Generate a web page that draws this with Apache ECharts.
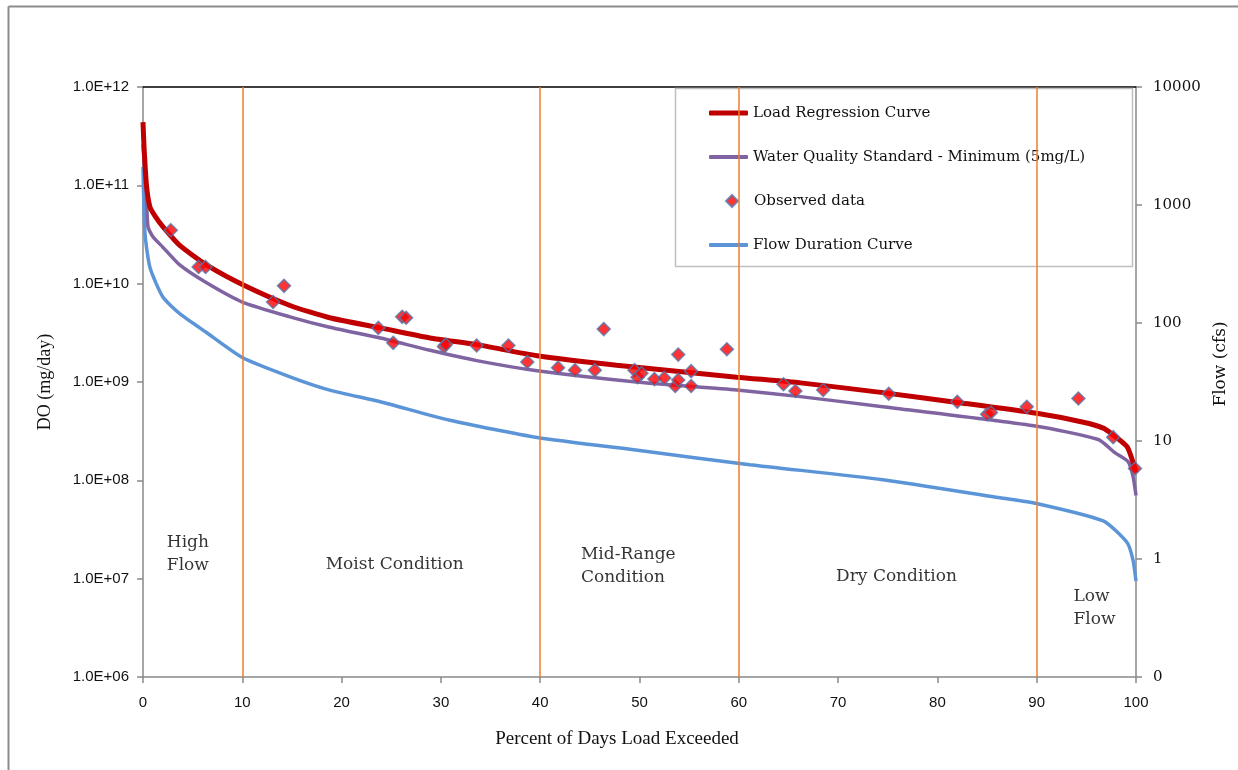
<!DOCTYPE html>
<html>
<head>
<meta charset="utf-8">
<title>DO Load Duration Curve</title>
<script src="https://cdn.jsdelivr.net/npm/echarts@6/dist/echarts.min.js"></script>
<style>
  html, body { margin: 0; padding: 0; background: #fff; }
  #chart { width: 1238px; height: 770px; }
</style>
</head>
<body>
<div id="chart"></div>
<script>
// ---- Load regression curve: [percent of days exceeded, DO load mg/day]
const loadRegression = [
  [0, 4.4e11], [0.1, 2.5e11], [0.35, 1.0e11], [0.7, 6.0e10], [1.2, 4.9e10],
  [2, 3.8e10], [3.7, 2.45e10], [6.4, 1.55e10], [10, 9.8e9], [14.8, 6.0e9],
  [18.8, 4.5e9], [23.9, 3.55e9], [28.9, 2.8e9], [33.6, 2.4e9], [39.7, 1.85e9],
  [47.7, 1.48e9], [59.8, 1.12e9], [66.2, 9.8e8], [74.5, 7.8e8], [82, 6.2e8],
  [90, 4.8e8], [94.7, 3.9e8], [96.7, 3.4e8], [97.5, 3.0e8], [99.1, 2.2e8],
  [99.9, 1.32e8], [100, 1.2e8]
];

// ---- Water quality standard (5 mg/L minimum) load curve
const wqStandard = [
  [0, 2.6e11], [0.3, 1.0e11], [0.5, 3.8e10], [1, 3.0e10], [2, 2.35e10],
  [3.7, 1.55e10], [6.4, 1.02e10], [10, 6.5e9], [14.8, 4.6e9], [18.8, 3.6e9],
  [23.9, 2.8e9], [28.9, 2.1e9], [33.6, 1.65e9], [39.7, 1.3e9], [49.7, 1.0e9],
  [59.8, 8.3e8], [66.2, 7.1e8], [74.5, 5.6e8], [90, 3.55e8], [96.2, 2.6e8],
  [97.9, 1.9e8], [99.2, 1.55e8], [99.7, 1.1e8], [100, 7.0e7]
];

// ---- Observed DO loads
const observed = [
  [2.8, 3.5e10], [5.6, 1.48e10], [6.3, 1.48e10], [13.1, 6.5e9], [14.2, 9.5e9],
  [23.7, 3.55e9], [25.2, 2.5e9], [26.1, 4.6e9], [26.5, 4.5e9], [30.3, 2.3e9],
  [30.5, 2.4e9], [33.6, 2.35e9], [36.8, 2.35e9], [38.7, 1.6e9], [41.8, 1.4e9],
  [43.5, 1.32e9], [45.5, 1.32e9], [46.4, 3.45e9], [49.5, 1.32e9], [49.8, 1.12e9],
  [50.2, 1.23e9], [51.5, 1.07e9], [52.5, 1.1e9], [53.6, 9.1e8], [53.9, 1.9e9],
  [53.9, 1.05e9], [55.2, 1.29e9], [55.2, 9.1e8], [58.8, 2.15e9], [64.5, 9.5e8],
  [65.7, 8.1e8], [68.5, 8.3e8], [75.1, 7.6e8], [82.0, 6.3e8], [85.0, 4.7e8],
  [85.4, 4.9e8], [89.0, 5.6e8], [94.2, 6.8e8], [97.7, 2.75e8], [99.9, 1.32e8]
];

// ---- Flow duration curve: [percent of days exceeded, flow cfs]
const flowDuration = [
  [0, 2100], [0.2, 575], [0.7, 295], [2, 166], [3.7, 120], [6.4, 83],
  [10, 51], [14.8, 35], [18.8, 27], [23.9, 21.5], [30.9, 15], [39.7, 10.7],
  [50, 8.3], [61.1, 6.3], [74.5, 4.7], [86.3, 3.3], [90, 2.95], [96.7, 2.1],
  [99.1, 1.38], [99.7, 0.98], [100, 0.65]
];

// ---- Flow regime boundaries (percent)
const zoneBreaks = [10, 40, 60, 90];

// ---- Flow regime labels: [percent, load, text]
const zoneLabels = [
  [2.4, 1.76e7, 'High\nFlow'],
  [18.4, 1.38e7, 'Moist Condition'],
  [44.1, 1.35e7, 'Mid-Range\nCondition'],
  [69.8, 1.04e7, 'Dry Condition'],
  [93.7, 4.98e6, 'Low\nFlow']
];

const serif = '"DejaVu Serif", serif';
const timesLike = '"Liberation Serif", serif';
const sans = '"Liberation Sans", Arial, sans-serif';
const axisGray = '#898989';
const inkColor = '#111111';

function sciLabel(v) {
  const e = Math.round(Math.log10(v));
  return '1.0E+' + (e < 10 ? '0' + e : e);
}

function legendFor(name, top, extra) {
  return Object.assign({
    data: [name],
    left: 709,
    top: top,
    padding: 0,
    itemWidth: 39,
    itemHeight: 5,
    icon: 'roundRect',
    selectedMode: false,
    textStyle: { fontFamily: serif, fontSize: 15, color: inkColor, lineHeight: 20 }
  }, extra || {});
}

const chart = echarts.init(document.getElementById('chart'), null, { renderer: 'canvas' });

chart.setOption({
  backgroundColor: '#ffffff',
  animation: false,
  grid: { left: 143, right: 102, top: 87, bottom: 93 },
  legend: [
    legendFor('Load Regression Curve', 103, { itemHeight: 5 }),
    legendFor('Water Quality Standard - Minimum (5mg/L)', 147, { itemHeight: 4 }),
    legendFor('Observed data', 191, {
      left: 725, icon: 'diamond', itemWidth: 12, itemHeight: 12,
      textStyle: { fontFamily: serif, fontSize: 15, color: inkColor, lineHeight: 20, padding: [0, 0, 0, 11] }
    }),
    legendFor('Flow Duration Curve', 235, { itemHeight: 4 })
  ],
  xAxis: [
    {
      type: 'value', min: 0, max: 100, interval: 10,
      name: 'Percent of Days Load Exceeded',
      nameLocation: 'middle', nameGap: 53,
      nameTextStyle: { fontFamily: timesLike, fontSize: 19, color: inkColor, padding: [0, 45, 0, 0] },
      axisLine: { onZero: false, lineStyle: { color: axisGray, width: 1.5 } },
      axisTick: { show: true, length: 6, lineStyle: { color: axisGray, width: 1.5 } },
      axisLabel: { fontFamily: sans, fontSize: 15, color: inkColor, margin: 18 },
      splitLine: { show: false }
    },
    {
      type: 'value', min: 0, max: 100, position: 'top',
      axisLine: { show: true, onZero: false, lineStyle: { color: '#000000', width: 1.5 } },
      axisTick: { show: false }, axisLabel: { show: false }, splitLine: { show: false }
    }
  ],
  yAxis: [
    {
      type: 'log', logBase: 10, min: 1e6, max: 1e12, splitNumber: 6,
      name: 'DO (mg/day)', nameLocation: 'middle', nameGap: 89, nameRotate: 90,
      nameTextStyle: { fontFamily: timesLike, fontSize: 18, color: inkColor },
      axisLine: { show: true, onZero: false, lineStyle: { color: axisGray, width: 1.5 } },
      axisTick: { show: true, length: 6, lineStyle: { color: axisGray, width: 1.5 } },
      axisLabel: { fontFamily: sans, fontSize: 15, color: inkColor, margin: 14, formatter: sciLabel },
      splitLine: { show: false }
    },
    {
      type: 'log', logBase: 10, min: 0.1, max: 10000, splitNumber: 5, position: 'right',
      name: 'Flow (cfs)', nameLocation: 'middle', nameGap: 69, nameRotate: 90,
      nameTextStyle: { fontFamily: serif, fontSize: 17, color: inkColor, padding: [0, 0, 0, 36] },
      axisLine: { show: true, onZero: false, lineStyle: { color: axisGray, width: 1.5 } },
      axisTick: { show: true, length: 6, lineStyle: { color: axisGray, width: 1.5 } },
      axisLabel: {
        fontFamily: serif, fontSize: 15, color: inkColor, margin: 17,
        formatter: v => (v < 1 ? '0' : String(Math.round(v)))
      },
      splitLine: { show: false }
    }
  ],
  graphic: [
    { type: 'line', shape: { x1: 8.5, y1: 6.5, x2: 1238, y2: 6.5 }, style: { stroke: '#8c8c8c', lineWidth: 2 }, silent: true },
    { type: 'line', shape: { x1: 8.5, y1: 6.5, x2: 8.5, y2: 770 }, style: { stroke: '#8c8c8c', lineWidth: 2 }, silent: true },
    { type: 'rect', shape: { x: 675.5, y: 88.5, width: 457, height: 178 }, style: { fill: 'none', stroke: '#bfbfbf', lineWidth: 1.5 }, silent: true, z: 5 }
  ],
  series: [
    {
      name: 'Flow regime breaks', type: 'line', data: [], silent: true,
      markLine: {
        silent: true, symbol: 'none', label: { show: false },
        lineStyle: { color: '#ED7D31', width: 1.5, type: 'solid' },
        data: zoneBreaks.map(x => ({ xAxis: x }))
      },
      z: 1
    },
    {
      name: 'Flow Duration Curve', type: 'line', yAxisIndex: 1, data: flowDuration,
      symbol: 'none', smooth: 0.2, color: '#5B95D8',
      lineStyle: { color: '#5B95D8', width: 3.5 }, z: 2
    },
    {
      name: 'Water Quality Standard - Minimum (5mg/L)', type: 'line', data: wqStandard,
      symbol: 'none', smooth: 0.2, color: '#8064A2',
      lineStyle: { color: '#8064A2', width: 3.5 }, z: 3
    },
    {
      name: 'Load Regression Curve', type: 'line', data: loadRegression,
      symbol: 'none', smooth: 0.2, color: '#C00000',
      lineStyle: { color: '#C00000', width: 5 }, z: 4
    },
    {
      name: 'Observed data', type: 'scatter', data: observed,
      symbol: 'diamond', symbolSize: 13,
      itemStyle: { color: '#FF0000', borderColor: '#5577AA', borderWidth: 1.5 }, z: 6
    },
    {
      name: 'Flow regimes', type: 'scatter', silent: true, symbolSize: 0,
      data: zoneLabels.map(d => ({ value: [d[0], d[1]], text: d[2] })),
      label: {
        show: true, position: 'right', distance: 0, align: 'left', verticalAlign: 'middle',
        fontFamily: serif, fontSize: 17, lineHeight: 23, color: '#000000',
        formatter: p => p.data.text
      },
      z: 7
    }
  ]
});
</script>
</body>
</html>
